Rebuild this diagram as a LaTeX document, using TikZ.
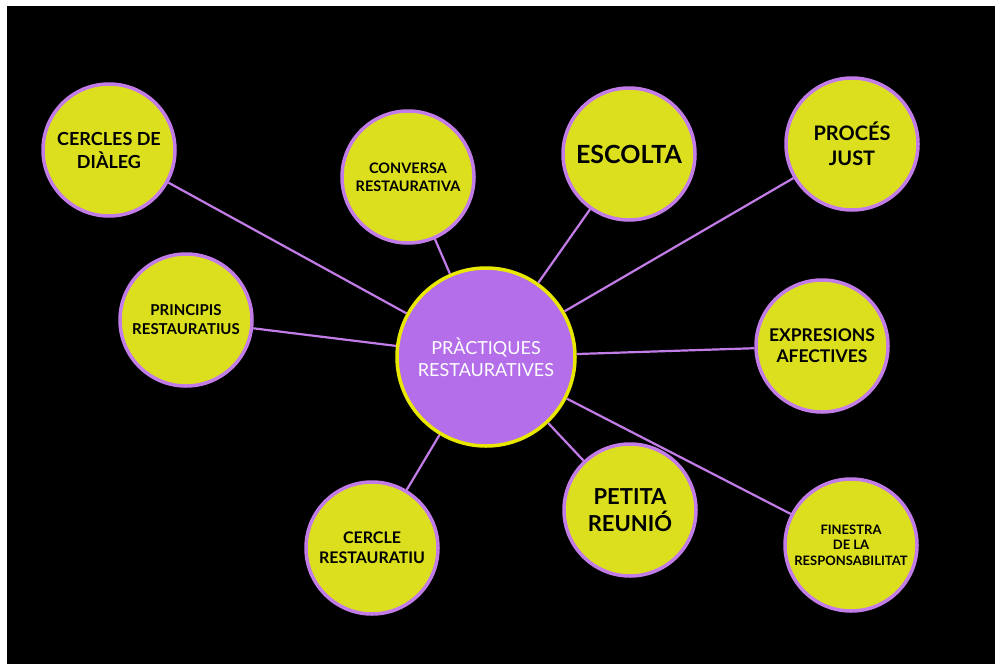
\documentclass[tikz,border=0pt]{standalone}
\usepackage{fontspec}
\setmainfont{Lato}
\definecolor{leaf}{HTML}{DCDF1E}
\definecolor{lilac}{HTML}{C27CE8}
\definecolor{hubfill}{HTML}{B46EEA}
\definecolor{hubedge}{HTML}{E8E800}
\begin{document}
\begin{tikzpicture}[x=1pt,y=-1pt,
  outer/.style={circle, fill=leaf, draw=lilac, line width=3.5pt, minimum size=132pt,
    inner sep=0pt, align=center, text=black},
  hub/.style={circle, fill=hubfill, draw=hubedge, line width=3.5pt, minimum size=178pt,
    inner sep=0pt, align=center, text=white},
  link/.style={draw=lilac, line width=2.2pt}]
\useasboundingbox (0,0) rectangle (995,664);
\fill[white] (0,0) rectangle (995,664);
\fill[black] (7,6) rectangle (995,664);

\node[hub, font=\fontsize{18}{22}\selectfont] (hub) at (486,357) {PRÀCTIQUES\\RESTAURATIVES};

\node[outer, font=\bfseries\fontsize{18}{23}\selectfont] (dialeg) at (109,150) {CERCLES DE\\DIÀLEG};
\node[outer, font=\bfseries\fontsize{14.5}{18}\selectfont] (conversa) at (408,177) {CONVERSA\\RESTAURATIVA};
\node[outer, font=\bfseries\fontsize{25}{30}\selectfont] (escolta) at (629,154) {ESCOLTA};
\node[outer, font=\bfseries\fontsize{20}{25}\selectfont] (proces) at (852,144) {PROCÉS\\JUST};
\node[outer, font=\bfseries\fontsize{15}{19}\selectfont] (principis) at (186,320) {PRINCIPIS\\RESTAURATIUS};
\node[outer, font=\bfseries\fontsize{17.5}{21}\selectfont] (expresions) at (822,346) {EXPRESIONS\\AFECTIVES};
\node[outer, font=\bfseries\fontsize{16}{20}\selectfont] (cercle) at (372,548) {CERCLE\\RESTAURATIU};
\node[outer, font=\bfseries\fontsize{22}{27}\selectfont] (petita) at (630,510) {PETITA\\REUNIÓ};
\node[outer, font=\bfseries\fontsize{13}{15.5}\selectfont] (finestra) at (851,545) {FINESTRA\\DE LA\\RESPONSABILITAT};

\foreach \n in {dialeg,conversa,escolta,proces,principis,expresions,cercle,petita,finestra}
  \draw[link] (hub) -- (\n);
\end{tikzpicture}
\end{document}
